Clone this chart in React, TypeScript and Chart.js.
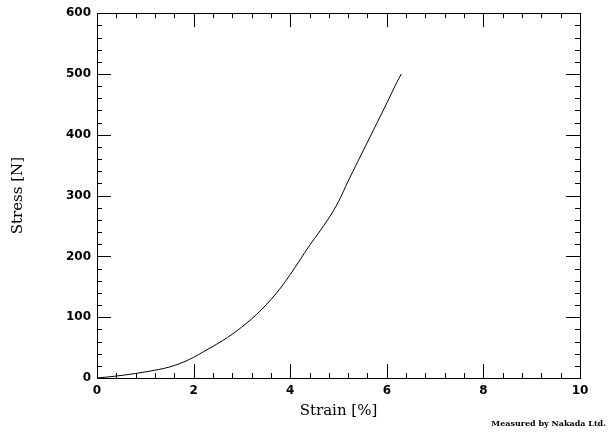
import { useEffect, useRef } from "react";
import { Chart, registerables } from "chart.js";

Chart.register(...registerables);

const strain = [0, 0.2, 0.4, 0.6, 0.8, 1.0, 1.2, 1.4, 1.6, 1.8, 2.0, 2.2, 2.4, 2.6, 2.8, 3.0, 3.2, 3.4, 3.6, 3.8, 4.0, 4.2, 4.4, 4.6, 4.8, 5.0, 5.2, 5.4, 5.6, 5.8, 6.0, 6.2, 6.3];
const stress = [0, 1.5, 3.2, 5.2, 7.5, 10, 12.8, 16, 20.5, 26.5, 34, 43, 52, 61.5, 72, 84, 97, 112, 129, 148, 170, 194, 218, 240, 263, 290, 324, 356, 388, 420, 452, 485, 500];

const xTitle = "Strain [%]";
const yTitle = "Stress [N]";
const credit = "Measured by Nakada Ltd.";
const xMajorStep = 2;
const xMinorStep = 0.4;
const yMajorStep = 100;
const yMinorStep = 20;

const frameTicks = {
  id: "frameTicks",
  afterDatasetsDraw(chart: any) {
    const { ctx, chartArea, scales } = chart;
    const { left, right, top, bottom } = chartArea;
    const x = scales.x;
    const y = scales.y;
    ctx.save();
    ctx.strokeStyle = "#000";
    ctx.lineWidth = 1;
    ctx.beginPath();
    const n = Math.round((x.max - x.min) / xMinorStep);
    for (let i = 0; i <= n; i++) {
      const v = x.min + i * xMinorStep;
      const isMajor = Math.abs(v / xMajorStep - Math.round(v / xMajorStep)) < 1e-6;
      const len = isMajor ? 14 : 5;
      const px = Math.round(x.getPixelForValue(v)) + 0.5;
      ctx.moveTo(px, bottom);
      ctx.lineTo(px, bottom - len);
      ctx.moveTo(px, top);
      ctx.lineTo(px, top + len);
    }
    const m = Math.round((y.max - y.min) / yMinorStep);
    for (let i = 0; i <= m; i++) {
      const v = y.min + i * yMinorStep;
      const isMajor = Math.abs(v / yMajorStep - Math.round(v / yMajorStep)) < 1e-6;
      const len = isMajor ? 14 : 5;
      const py = Math.round(y.getPixelForValue(v)) + 0.5;
      ctx.moveTo(left, py);
      ctx.lineTo(left + len, py);
      ctx.moveTo(right, py);
      ctx.lineTo(right - len, py);
    }
    ctx.stroke();
    ctx.strokeRect(Math.round(left) + 0.5, Math.round(top) + 0.5, Math.round(right - left), Math.round(bottom - top));
    ctx.restore();
  },
  afterDraw(chart: any) {
    const { ctx } = chart;
    ctx.save();
    ctx.fillStyle = "#000";
    ctx.font = 'bold 8px "DejaVu Serif"';
    ctx.textAlign = "right";
    ctx.textBaseline = "middle";
    ctx.fillText(credit, 606, 424);
    ctx.restore();
  },
};

export default function App() {
  const ref = useRef<HTMLCanvasElement>(null);
  useEffect(() => {
    if (!ref.current) return;
    const chart = new Chart(ref.current, {
      type: "line",
      data: {
        datasets: [
          {
            data: strain.map((s, i) => ({ x: s, y: stress[i] })),
            borderColor: "#000",
            borderWidth: 1,
            pointRadius: 0,
            tension: 0.2,
            cubicInterpolationMode: "monotone",
            fill: false,
          },
        ],
      },
      options: {
        animation: false,
        responsive: false,
        devicePixelRatio: 1,
        layout: { padding: { top: 10, right: 28, bottom: 0, left: 0 } },
        plugins: { legend: { display: false }, tooltip: { enabled: false } },
        scales: {
          x: {
            type: "linear",
            min: 0,
            max: 10,
            ticks: {
              stepSize: xMajorStep,
              color: "#000",
              padding: 6,
              maxRotation: 0,
              font: { family: '"DejaVu Sans"', size: 12, weight: "bold" },
            },
            grid: { display: false, drawTicks: false },
            border: { display: false },
            title: {
              display: true,
              text: xTitle,
              color: "#000",
              font: { family: '"DejaVu Serif"', size: 15 },
              padding: { top: 0, bottom: 12 },
            },
            afterFit(scale: any) {
              scale.height = 54;
            },
          },
          y: {
            type: "linear",
            min: 0,
            max: 600,
            ticks: {
              stepSize: yMajorStep,
              color: "#000",
              padding: 6,
              font: { family: '"DejaVu Sans"', size: 12, weight: "bold" },
            },
            grid: { display: false, drawTicks: false },
            border: { display: false },
            title: {
              display: true,
              text: yTitle,
              color: "#000",
              font: { family: '"DejaVu Serif"', size: 15 },
              padding: { top: 9, bottom: 0 },
            },
            afterFit(scale: any) {
              scale.width = 97;
            },
          },
        },
      },
      plugins: [frameTicks],
    });
    return () => chart.destroy();
  }, []);
  return (
    <div style={{ position: "absolute", left: 0, top: 0, width: 608, height: 432, background: "#fff" }}>
      <canvas ref={ref} width={608} height={432} />
    </div>
  );
}
